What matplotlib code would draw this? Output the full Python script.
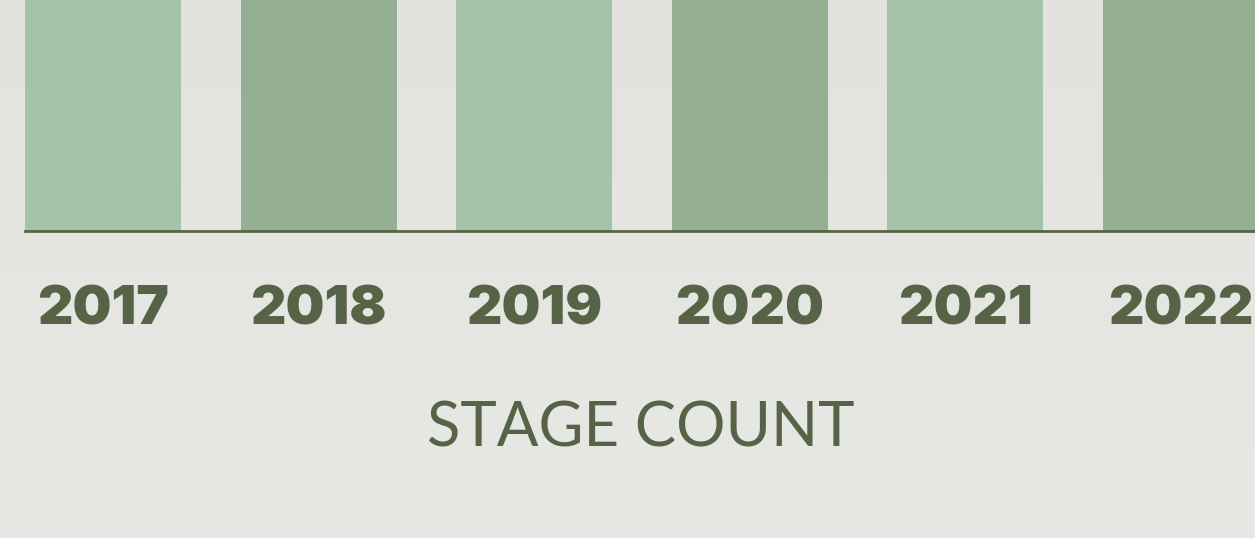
import numpy as np
import matplotlib.pyplot as plt

years = ['2017', '2018', '2019', '2020', '2021', '2022']
stage_counts = [21, 21, 21, 21, 21, 21]
bar_colors = ['#a5c4a7', '#95af93']
text_color = '#566346'

fig = plt.figure(figsize=(12.55, 5.38), dpi=100)

# soft vertical background gradient
bg = fig.add_axes([0, 0, 1, 1])
grad = np.linspace(0, 1, 256).reshape(-1, 1)
bg.imshow(grad, aspect='auto', cmap=plt.matplotlib.colors.LinearSegmentedColormap.from_list(
    'bg', ['#e2e3de', '#e8e9e5']), extent=[0, 1, 0, 1], origin='upper')
bg.set_axis_off()

# bars axis: left edge at first bar, top cut off
ax = fig.add_axes([25 / 1255, 1 - 231 / 538, 1 - 25 / 1255, 231 / 538])
ax.patch.set_alpha(0)
x = np.arange(len(years))
width = 0.724
ax.bar(x, stage_counts, width=width,
       color=[bar_colors[i % 2] for i in range(len(years))])
ax.set_xlim(-width / 2, -width / 2 + 1230 / 215.6)
ax.set_ylim(0, 15)
for s in ['top', 'right', 'left']:
    ax.spines[s].set_visible(False)
ax.spines['bottom'].set_color(text_color)
ax.spines['bottom'].set_linewidth(2)
ax.set_yticks([])
ax.set_xticks(x)
ax.set_xticklabels(years, fontsize=39.5, fontweight=900, family='Inter', color=text_color)
ax.tick_params(axis='x', length=0, pad=39)

fig.text(641 / 1255, 1 - 429 / 538, 'STAGE COUNT', ha='center', va='center',
         fontsize=44.5, fontweight='normal', family='Lato', color=text_color)

fig.savefig('out.png', dpi=100)
